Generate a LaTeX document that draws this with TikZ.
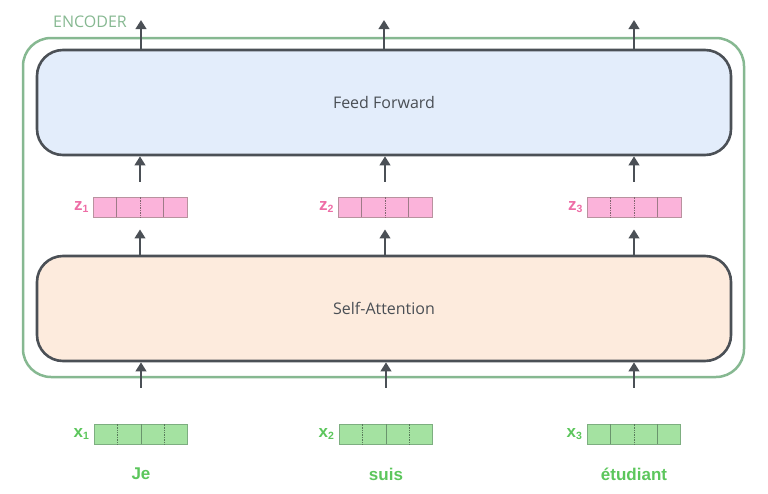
\documentclass[tikz,border=0pt]{standalone}
\usepackage{fontspec}
\setmainfont{Open Sans}
\newfontfamily\arialf{Liberation Sans}
\usetikzlibrary{arrows.meta,calc}
\definecolor{encgreen}{HTML}{86B891}
\definecolor{darkline}{HTML}{4B5056}
\definecolor{ffblue}{HTML}{E3EDFB}
\definecolor{sapeach}{HTML}{FDEBDD}
\definecolor{wordgreen}{HTML}{5CC65C}
\definecolor{xfill}{HTML}{A4E2A1}
\definecolor{xline}{HTML}{7DAE80}
\definecolor{zfill}{HTML}{FBB3DA}
\definecolor{zline}{HTML}{B9929F}
\definecolor{zlab}{HTML}{EE6DA6}
\definecolor{txtgray}{HTML}{4A4F55}
\newcommand\sublab[2]{{\arialf\bfseries\fontsize{17}{17}\selectfont #1\raisebox{-2pt}{\fontsize{10.5}{10.5}\selectfont #2}}}
\newcommand\cellsep[4]{%
  \draw[#2] ($(#1.south west)!0.25!(#1.south east)$) -- ($(#1.north west)!0.25!(#1.north east)$);
  \draw[#3] ($(#1.south west)!0.5!(#1.south east)$) -- ($(#1.north west)!0.5!(#1.north east)$);
  \draw[#4] ($(#1.south west)!0.75!(#1.south east)$) -- ($(#1.north west)!0.75!(#1.north east)$);}
\begin{document}
\begin{tikzpicture}[x=1pt,y=-1pt,
  bigbox/.style={draw=darkline, line width=2.6pt, rounded corners=26pt, minimum width=694pt, minimum height=105pt, inner sep=0pt, font=\fontsize{16}{16}\selectfont, text=txtgray},
  xvec/.style={draw=xline, fill=xfill, line width=0.8pt, minimum width=93pt, minimum height=20pt, inner sep=0pt},
  zvec/.style={draw=zline, fill=zfill, line width=0.8pt, minimum width=94pt, minimum height=20pt, inner sep=0pt},
  xsep/.style={draw=xline!85!black, line width=0.7pt},
  xdot/.style={draw=xline!70!black, line width=0.7pt, densely dotted},
  zsep/.style={draw=zline!85!black, line width=0.7pt},
  zdot/.style={draw=zline!70!black, line width=0.7pt, densely dotted},
  arr/.style={draw=darkline, line width=2.8pt, -{Triangle[width=10.5pt,length=9pt]}},
  word/.style={text=wordgreen, font=\arialf\bfseries\fontsize{17}{17}\selectfont},
]
\useasboundingbox (0,0) rectangle (768,493);
% encoder frame
\node[draw=encgreen, line width=2.5pt, rounded corners=28pt, minimum width=721pt, minimum height=339pt, inner sep=0pt] (enc) at (383.5,207.5) {};
\node[text=encgreen, font=\fontsize{16}{16}\selectfont, anchor=center] (enclab) at (90,22) {ENCODER};
% main boxes
\node[bigbox, fill=ffblue] (ff) at (384,102.5) {Feed Forward};
\node[bigbox, fill=sapeach] (sa) at (384,308.5) {Self-Attention};
% z vectors
\node[zvec] (z1) at (140,207) {};
\node[zvec] (z2) at (385,207) {};
\node[zvec] (z3) at (634,207) {};
\cellsep{z1}{zsep}{zdot}{zsep}
\cellsep{z2}{zsep}{zdot}{zsep}
\cellsep{z3}{zdot}{zdot}{zsep}
\node[anchor=east, text=zlab, inner sep=0pt] (z1l) at ($(z1.west)+(-4,0)$) {\sublab{z}{1}};
\node[anchor=east, text=zlab, inner sep=0pt] (z2l) at ($(z2.west)+(-4,0)$) {\sublab{z}{2}};
\node[anchor=east, text=zlab, inner sep=0pt] (z3l) at ($(z3.west)+(-4,0)$) {\sublab{z}{3}};
% x vectors
\node[xvec] (x1) at (141,434) {};
\node[xvec] (x2) at (386,434) {};
\node[xvec] (x3) at (634,434) {};
\cellsep{x1}{xdot}{xsep}{xdot}
\cellsep{x2}{xdot}{xsep}{xdot}
\cellsep{x3}{xsep}{xdot}{xsep}
\node[anchor=east, text=wordgreen, inner sep=0pt] (x1l) at ($(x1.west)+(-5,0)$) {\sublab{x}{1}};
\node[anchor=east, text=wordgreen, inner sep=0pt] (x2l) at ($(x2.west)+(-5,0)$) {\sublab{x}{2}};
\node[anchor=east, text=wordgreen, inner sep=0pt] (x3l) at ($(x3.west)+(-5,0)$) {\sublab{x}{3}};
% words
\node[word] (w1) at (141,474) {Je};
\node[word] (w2) at (386,474) {suis};
\node[word] (w3) at (634,474) {étudiant};
% output coordinates
\coordinate (o1) at (141,20);
\coordinate (o2) at (384,20);
\coordinate (o3) at (634,20);
% arrows
\draw[arr] (o1 |- ff.north) -- (o1);
\draw[arr] (o2 |- ff.north) -- (o2);
\draw[arr] (o3 |- ff.north) -- (o3);
\foreach \n in {1,2,3}{
  \draw[arr, shorten <=15pt] (z\n.north) -- (z\n.north |- ff.south);
  \draw[arr, shorten >=12pt] (z\n.south |- sa.north) -- (z\n.south);
  \draw[arr, shorten <=36pt] (x\n.north) -- (x\n.north |- sa.south);
}
\end{tikzpicture}
\end{document}
